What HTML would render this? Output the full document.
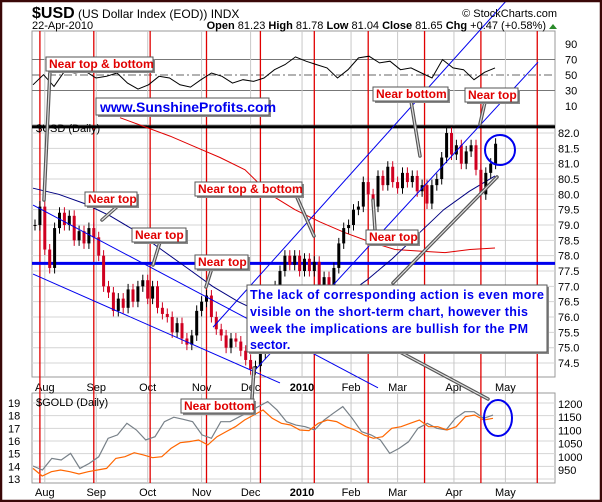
<!DOCTYPE html>
<html><head><meta charset="utf-8"><style>
html,body{margin:0;padding:0;background:#fff;}
svg{display:block;font-family:"Liberation Sans",sans-serif;}
</style></head><body>
<svg id="chart" width="602" height="502" viewBox="0 0 602 502" xmlns="http://www.w3.org/2000/svg">
<rect x="0" y="0" width="602" height="502" fill="#fff"/>
<g id="grid"></g>
<g id="marks"></g>
<g id="annot"></g>
<rect x="1" y="1" width="600" height="500" fill="none" stroke="#3a0808" stroke-width="2.5"/>
</svg>
<script>
// ---- data ----
const months = ["Aug","Sep","Oct","Nov","Dec","2010","Feb","Mar","Apr","May"];
const monthTd = [4,25,46,68,88,109,129,148,171,192];
const eventTd = [2,24,47,70,92,114,136,159,182,205];
const mainTicks = [82.0,81.5,81.0,80.5,80.0,79.5,79.0,78.5,78.0,77.5,77.0,76.5,76.0,75.5,75.0,74.5];
const rsiTicks = [90,70,50,30,10];
const ratioTicks = [19,18,17,16,15,14,13];
const goldTicks = [1200,1150,1100,1050,1000,950];
// closes every 2 trading days
const closes = [79.0,79.6,78.2,77.6,78.9,79.4,79.0,79.3,78.5,78.8,78.4,78.9,78.6,78.0,77.0,76.8,76.2,76.6,76.3,76.9,
76.5,77.0,77.2,76.6,77.0,76.3,76.1,76.0,75.5,75.8,75.3,75.1,75.4,76.2,76.5,76.7,76.0,75.6,75.4,75.0,
75.3,75.2,74.9,74.6,74.3,74.4,74.8,75.4,76.0,77.0,77.5,78.0,77.7,78.0,77.5,77.9,77.5,77.8,77.0,77.3,
76.8,77.6,78.4,78.9,79.0,79.5,79.6,80.4,80.0,79.6,80.6,80.3,80.9,80.4,80.2,80.7,80.4,80.6,80.1,80.3,
79.7,80.3,80.5,81.2,82.0,81.3,81.6,81.0,81.4,81.6,80.8,80.0,80.7,81.0,81.65];
const ma50 = [80.2,80.0,79.7,79.3,78.8,78.2,77.6,77.0,76.5,76.1,75.9,76.1,76.6,77.2,77.9,78.7,79.5,80.1,80.6];
const ma200 = [82.5,82.2,81.9,81.55,81.2,80.8,80.0,79.5,79.1,78.75,78.45,78.2,78.15,78.1,78.2,78.25];
const rsi = [37.4,50.4,35.3,54.8,52.6,54.8,46.1,48.3,52.6,39.6,31.8,37.4,48.3,46.1,37.4,34.4,43.9,52.6,48.3,39.6,
43.9,41.8,46.1,56.9,63.4,73.4,67.8,63.4,59.1,46.1,56.9,72.1,74.2,65.6,67.8,56.9,59.1,52.6,46.1,69.9,
59.1,56.9,43.9,53.5,59.1];
const goldPrice = [965,950,994,988,1013,956,975,1000,1070,1083,1127,1102,1064,1076,1133,1150,1142,1133,1083,1070,
1133,1133,1152,1171,1190,1209,1177,1133,1120,1114,1102,1139,1165,1190,1146,1095,1083,1064,1013,1032,
1057,1108,1127,1108,1102,1146,1171,1171,1146,1158];
const ratio = [13.84,13.24,13.58,13.71,13.58,13.4,13.58,13.71,13.84,14.63,14.76,15.08,14.9,14.68,14.76,15.42,15.87,15.95,16.08,15.69,
16.34,16.74,17.13,17.66,18.05,18.45,17.79,17.4,17.26,16.87,16.82,17.4,17.66,17.53,17.13,16.87,16.47,16.21,16.34,17.0,
17.13,17.4,17.66,17.13,17.13,16.87,17.13,17.92,18.05,17.66,17.79];

// ---- axes ----
const PL=32, PR=555;
const xTd = td => 35 + td*2.45;
const yMain = v => 133 + (82 - v)*30.67;
const yRsi = v => 75 - (v - 50)*0.775;
const yRatio = v => 403 + (19 - v)*12.67;
const yGold = v => 404 + (1200 - v)*0.264;
const spread = (i,n,x0,x1) => x0 + i*(x1-x0)/(n-1);

const NS="http://www.w3.org/2000/svg";
const grid=document.getElementById('grid'), marks=document.getElementById('marks'), annot=document.getElementById('annot');
function mk(tag, attrs, parent, txt){const e=document.createElementNS(NS,tag);for(const k in attrs)e.setAttribute(k,attrs[k]);if(txt!==undefined)e.textContent=txt;parent.appendChild(e);return e;}

// panels
const panels=[[31,125,'rsi-panel'],[125,377,'price-panel'],[393,483,'gold-panel']];
panels.forEach(p=>{const r=mk('rect',{x:PL,y:p[0],width:PR-PL,height:p[1]-p[0],fill:'#fff',stroke:'#999','stroke-width':1},grid);

});

// horizontal gridlines
mainTicks.forEach(v=>{const y=yMain(v);
const l=mk('line',{x1:PL,x2:PR,y1:y,y2:y,stroke:'#d4d4d4','stroke-width':1},grid);


const t=mk('text',{x:PR+3,y:y+4,'font-size':11,fill:'#000'},grid,v.toFixed(1));

});
rsiTicks.forEach(v=>{const y=yRsi(v);
if(v===70||v===30){const l=mk('line',{x1:PL,x2:PR,y1:y,y2:y,stroke:'#777','stroke-width':1},grid);

}
if(v===50){const l=mk('line',{x1:PL,x2:PR,y1:y,y2:y,stroke:'#666','stroke-width':1,'stroke-dasharray':'8,3,2,3'},grid);

}
const t=mk('text',{x:PR+10,y:y+4,'font-size':11,fill:'#000'},grid,String(v));

});
ratioTicks.forEach(v=>{const y=yRatio(v);
const l=mk('line',{x1:PL,x2:PR,y1:y,y2:y,stroke:'#d4d4d4','stroke-width':1},grid);


const t=mk('text',{x:8,y:y+4,'font-size':11,fill:'#000'},grid,String(v));

});
goldTicks.forEach(v=>{const y=yGold(v);
const t=mk('text',{x:PR+3,y:y+4,'font-size':11,fill:'#000'},grid,String(v));

});

// vertical month gridlines + labels
months.forEach((m,i)=>{const x=xTd(monthTd[i]);
[[31,377],[393,483]].forEach(r=>{const l=mk('line',{x1:x,x2:x,y1:r[0],y2:r[1],stroke:'#c8c8c8','stroke-width':1},grid);

});
[391,496].forEach(yy=>{const t=mk('text',{x:x,y:yy,'font-size':11,'text-anchor':'middle','font-weight':m==='2010'?'bold':'normal',fill:'#000'},grid,m);

});});

// red event lines
eventTd.forEach(td=>{const x=xTd(td);
const l=mk('line',{x1:x,x2:x,y1:31,y2:483,stroke:'#e00000','stroke-width':1.3},marks);

});

// horizontal annotations
[[82.2,'#000',3,'resistance-line'],[77.75,'#0000ee',3,'support-line']].forEach(h=>{const y=yMain(h[0]);
const l=mk('line',{x1:PL,x2:PR,y1:y,y2:y,stroke:h[1],'stroke-width':h[2]},marks);

});

// moving averages
function poly(vals,x0,x1,yf,color,w,name){const pts=vals.map((v,i)=>spread(i,vals.length,x0,x1).toFixed(1)+','+yf(v).toFixed(1)).join(' ');
const p=mk('polyline',{points:pts,fill:'none',stroke:color,'stroke-width':w},marks);

return p;}
poly(ma200,120,495,yMain,'#e00000',1,'ma-200');
poly(ma50,33,495,yMain,'#000080',1,'ma-50');

// candles
closes.forEach((c,i)=>{const o=i>0?closes[i-1]:c;const x=xTd(i*2);
const col=c<o?'#d00020':'#000';
const hi=Math.max(o,c)+0.18, lo=Math.min(o,c)-0.18;
const w=mk('line',{x1:x,x2:x,y1:yMain(hi),y2:yMain(lo),stroke:col,'stroke-width':1},marks);


const top=yMain(Math.max(o,c)),h=Math.max(1,yMain(Math.min(o,c))-top);
const b=mk('rect',{x:x-1.5,y:top,width:3,height:h,fill:col},marks);

});

// RSI
poly(rsi,33,495,yRsi,'#000',1,'rsi-line');
// gold panel
poly(goldPrice,33,493,yGold,'#778088',1.2,'gold-price-line');
poly(ratio,33,493,yRatio,'#ff6600',1.2,'gold-ratio-line');

// trend lines (td, price)
[[-0.8,79.65,140,73.69],[-0.8,77.4,100,73.85],[72.7,75.67,192.7,86.34],[89.8,74.27,205.3,84.31]].forEach(t=>{
const l=mk('line',{x1:xTd(t[0]),y1:yMain(t[1]),x2:xTd(t[2]),y2:yMain(t[3]),stroke:'#0000ee','stroke-width':1},marks);

});
</script>
<svg style="position:absolute;left:0;top:0" width="602" height="502">
<g font-family="Liberation Sans, sans-serif">
<text x="32" y="18"><tspan font-size="16" font-weight="bold">$USD</tspan><tspan font-size="12"> (US Dollar Index (EOD))  INDX</tspan></text>
<text x="557" y="17" font-size="11" text-anchor="end">© StockCharts.com</text>
<text x="32" y="29" font-size="11">22-Apr-2010</text>
<text x="546" y="29" font-size="11" text-anchor="end"><tspan font-weight="bold">Open</tspan> 81.23 <tspan font-weight="bold">High</tspan> 81.78 <tspan font-weight="bold">Low</tspan> 81.04 <tspan font-weight="bold">Close</tspan> 81.65 <tspan font-weight="bold">Chg</tspan> +0.47 (+0.58%)</text>
<polygon points="549,29 557,29 553,24" fill="#2a8a2a"/>
<text x="36" y="132" font-size="11">$USD (Daily)</text>
<text x="36" y="406" font-size="11">$GOLD (Daily)</text>
<!-- pointers -->
<g stroke-linecap="round">
<g stroke="#555" stroke-width="3.5">
<line x1="50" y1="70" x2="44" y2="200"/><line x1="120" y1="204" x2="102" y2="220"/><line x1="160" y1="242" x2="153" y2="265"/>
<line x1="212" y1="268" x2="206" y2="287"/><line x1="296" y1="195" x2="314" y2="236"/><line x1="411" y1="101" x2="420" y2="156"/>
<line x1="485" y1="102" x2="480" y2="124"/><line x1="375" y1="230" x2="373" y2="200"/><line x1="393" y1="283" x2="497" y2="177"/>
<line x1="400" y1="352" x2="488" y2="399"/><line x1="252" y1="399" x2="254" y2="368"/></g>
<g stroke="#ddd" stroke-width="1.2">
<line x1="50" y1="70" x2="44" y2="200"/><line x1="120" y1="204" x2="102" y2="220"/><line x1="160" y1="242" x2="153" y2="265"/>
<line x1="212" y1="268" x2="206" y2="287"/><line x1="296" y1="195" x2="314" y2="236"/><line x1="411" y1="101" x2="420" y2="156"/>
<line x1="485" y1="102" x2="480" y2="124"/><line x1="375" y1="230" x2="373" y2="200"/><line x1="393" y1="283" x2="497" y2="177"/>
<line x1="400" y1="352" x2="488" y2="399"/><line x1="252" y1="399" x2="254" y2="368"/></g>
</g>
<!-- callouts -->
<g font-weight="bold" font-size="12" fill="#e00000">
<g><rect x="48" y="59" width="107" height="14" fill="#888"/><rect x="46" y="57" width="107" height="14" fill="#fff" stroke="#555"/><text x="49" y="68">Near top &amp; bottom</text></g>
<g><rect x="87" y="194" width="52" height="14" fill="#888"/><rect x="85" y="192" width="52" height="14" fill="#fff" stroke="#555"/><text x="88" y="203">Near top</text></g>
<g><rect x="134" y="230" width="54" height="14" fill="#888"/><rect x="132" y="228" width="54" height="14" fill="#fff" stroke="#555"/><text x="135" y="239">Near top</text></g>
<g><rect x="197" y="257" width="53" height="14" fill="#888"/><rect x="195" y="255" width="53" height="14" fill="#fff" stroke="#555"/><text x="198" y="266">Near top</text></g>
<g><rect x="197" y="184" width="107" height="14" fill="#888"/><rect x="195" y="182" width="107" height="14" fill="#fff" stroke="#555"/><text x="198" y="193">Near top &amp; bottom</text></g>
<g><rect x="375" y="89" width="75" height="14" fill="#888"/><rect x="373" y="87" width="75" height="14" fill="#fff" stroke="#555"/><text x="376" y="98">Near bottom</text></g>
<g><rect x="467" y="90" width="53" height="14" fill="#888"/><rect x="465" y="88" width="53" height="14" fill="#fff" stroke="#555"/><text x="468" y="99">Near top</text></g>
<g><rect x="368" y="232" width="52" height="14" fill="#888"/><rect x="366" y="230" width="52" height="14" fill="#fff" stroke="#555"/><text x="369" y="241">Near top</text></g>
<g><rect x="183" y="401" width="73" height="14" fill="#888"/><rect x="181" y="399" width="73" height="14" fill="#fff" stroke="#555"/><text x="184" y="410">Near bottom</text></g>
</g>
<g><rect x="98" y="100" width="173" height="17" fill="#888"/><rect x="96" y="98" width="173" height="17" fill="#fff" stroke="#555"/><text x="100" y="112" font-size="14" font-weight="bold" fill="#0000ee">www.SunshineProfits.com</text></g>
<g><rect x="249" y="287" width="300" height="67" fill="#888"/><rect x="247" y="285" width="300" height="67" fill="#fff" stroke="#555"/>
<g font-size="12.5" font-weight="bold" fill="#0000ee"><text x="250" y="299" textLength="294">The lack of corresponding action is even more</text><text x="250" y="316" textLength="278">visible on the short-term chart, however this</text><text x="250" y="333" textLength="278">week the implications are bullish for the PM</text><text x="250" y="349">sector.</text></g></g>
<ellipse cx="500" cy="150" rx="15" ry="15" fill="none" stroke="#0000ee" stroke-width="2"/>
<ellipse cx="498" cy="418" rx="14" ry="18" fill="none" stroke="#0000ee" stroke-width="2"/>
</g></svg>
</body></html>
